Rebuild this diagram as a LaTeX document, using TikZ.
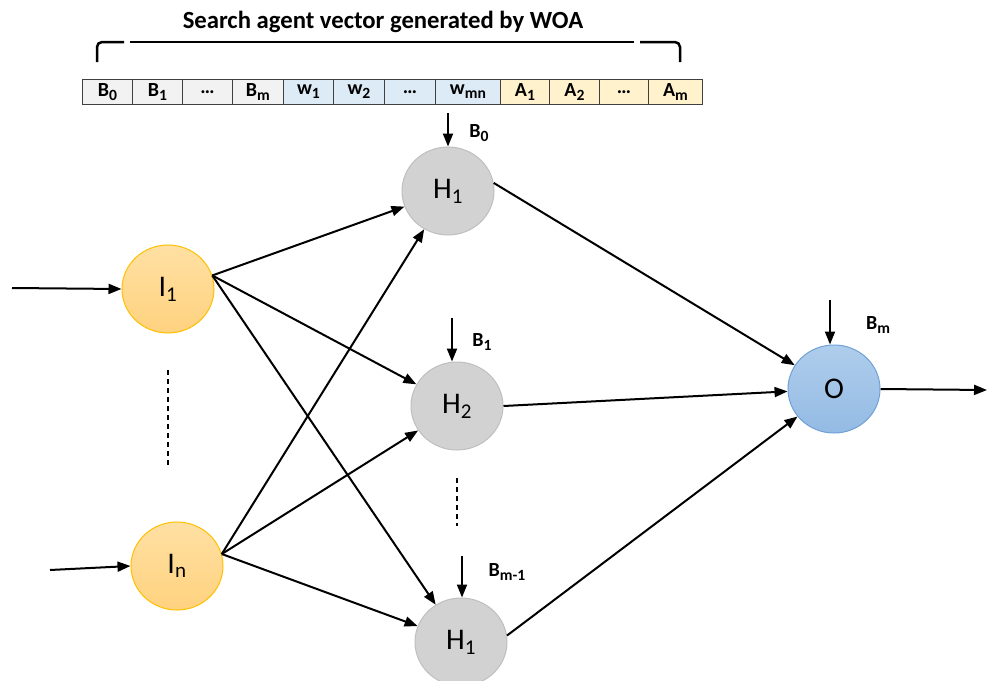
\documentclass[tikz,border=0pt]{standalone}
\usepackage{fontspec}
\setmainfont{Carlito}
\usetikzlibrary{arrows.meta,shapes.geometric}
\definecolor{cellborder}{HTML}{404040}
\definecolor{cgray}{HTML}{F2F2F2}
\definecolor{cblue}{HTML}{DDEBF7}
\definecolor{cyel}{HTML}{FFF2CC}
\definecolor{Iborder}{HTML}{FFC000}
\definecolor{Itop}{HTML}{FFE0A3}
\definecolor{Ibot}{HTML}{FFD27F}
\definecolor{Hborder}{HTML}{BFBFBF}
\definecolor{Hfill}{HTML}{D2D2D2}
\definecolor{Oborder}{HTML}{6FA0D6}
\definecolor{Otop}{HTML}{AFCDEC}
\definecolor{Obot}{HTML}{94BBE4}
\newcommand\mysub[1]{\raisebox{-0.22em}{\fontsize{0.78em}{0.78em}\selectfont #1}}
\begin{document}
\begin{tikzpicture}[x=1pt,y=-1pt,
  neuron/.style={ellipse, minimum width=92pt, minimum height=88pt, inner sep=0pt,
    font=\fontsize{30}{30}\selectfont, line width=1pt},
  inode/.style={neuron, draw=Iborder, top color=Itop, bottom color=Ibot},
  hnode/.style={neuron, draw=Hborder, fill=Hfill},
  onode/.style={neuron, draw=Oborder, top color=Otop, bottom color=Obot},
  cell/.style={draw=cellborder, line width=0.8pt, minimum height=25pt, inner sep=0pt,
    font=\bfseries\fontsize{20}{20}\selectfont, anchor=north west},
  arr/.style={-{Triangle[length=13pt,width=10pt]}, line width=2pt},
  blabel/.style={font=\bfseries\fontsize{20}{20}\selectfont, inner sep=0pt},
  dashline/.style={line width=1.4pt, dash pattern=on 5pt off 4pt},
]
\useasboundingbox (0,0) rectangle (987,680);

% title and bracket
\node[font=\bfseries\fontsize{24.7}{25}\selectfont] (title) at (383,22) {Search agent vector generated by WOA};
\draw[line width=2.5pt, rounded corners=5pt] (97,62) -- (97,42) -- (124,42);
\draw[line width=2.5pt] (130,42) -- (634,42);
\draw[line width=2.5pt, rounded corners=5pt] (640,42) -- (680,42) -- (680,62);

% cells
\node[cell, fill=cgray, minimum width=50pt] (c1) at (82,79) {B\mysub{0}};
\node[cell, fill=cgray, minimum width=50pt] (c2) at (132,79) {B\mysub{1}};
\node[cell, fill=cgray, minimum width=50pt] (c3) at (182,79) {…};
\node[cell, fill=cgray, minimum width=51pt] (c4) at (232,79) {B\mysub{m}};
\node[cell, fill=cblue, minimum width=50pt] (c5) at (283,79) {w\mysub{1}};
\node[cell, fill=cblue, minimum width=51pt] (c6) at (333,79) {w\mysub{2}};
\node[cell, fill=cblue, minimum width=51pt] (c7) at (384,79) {…};
\node[cell, fill=cblue, minimum width=65pt] (c8) at (435,79) {w\mysub{mn}};
\node[cell, fill=cyel, minimum width=49pt] (c9) at (500,79) {A\mysub{1}};
\node[cell, fill=cyel, minimum width=50pt] (c10) at (549,79) {A\mysub{2}};
\node[cell, fill=cyel, minimum width=49pt] (c11) at (599,79) {…};
\node[cell, fill=cyel, minimum width=54pt] (c12) at (648,79) {A\mysub{m}};

% neurons
\node[inode] (I1) at (168,289) {I\textsubscript{1}};
\node[inode] (In) at (177,566) {I\textsubscript{n}};
\node[hnode] (H1) at (448,191) {H\textsubscript{1}};
\node[hnode] (H2) at (457,406) {H\textsubscript{2}};
\node[hnode] (H3) at (461,642) {H\textsubscript{1}};
\node[onode] (O) at (834,389) {O};

% inputs / output
\coordinate (in1) at (12,288);
\coordinate (in2) at (50,570);
\coordinate (out) at (987,390);
\draw[arr] (in1) -- (I1.west);
\draw[arr] (in2) -- (In.west);
\draw[arr] (O.east) -- (out);

% input to hidden
\draw[arr] (I1.17) -- (H1);
\draw[arr] (I1.17) -- (H2);
\draw[arr] (I1.17) -- (H3);
\draw[arr] (In.15) -- (H1);
\draw[arr] (In.15) -- (H2);
\draw[arr] (In.15) -- (H3);

% hidden to output
\draw[arr] (H1.10) -- (O);
\draw[arr] (H2.east) -- (O);
\draw[arr] (H3.8) -- (O);

% biases
\coordinate (b0) at (448,113);
\coordinate (b1) at (452,318);
\coordinate (b2) at (462,556);
\coordinate (b3) at (830,300);
\draw[arr] (b0) -- (b0 |- H1.north);
\draw[arr] (b1) -- (b1 |- H2.north);
\draw[arr] (b2) -- (b2 |- H3.north);
\draw[arr] (b3) -- (b3 |- O.north);
\node[blabel] (lb0) at (479,133) {B\mysub{0}};
\node[blabel] (lb1) at (482,342) {B\mysub{1}};
\node[blabel] (lb2) at (507,572) {B\mysub{m-1}};
\node[blabel] (lb3) at (878,325) {B\mysub{m}};

% dotted continuation
\draw[dashline] (168,370) -- (168,466);
\draw[dashline] (457,478) -- (457,526);
\end{tikzpicture}
\end{document}
